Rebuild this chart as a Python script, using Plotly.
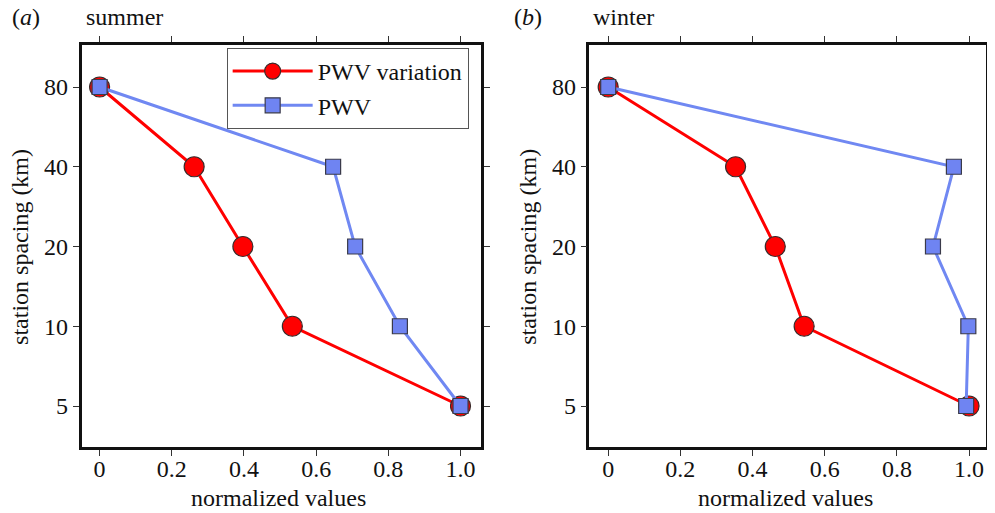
import plotly.graph_objects as go

spacing_km = [80, 40, 20, 10, 5]
tick_vals = [5, 10, 20, 40, 80]
x_ticks = [0, 0.2, 0.4, 0.6, 0.8, 1.0]
x_tick_text = ["0", "0.2", "0.4", "0.6", "0.8", "1.0"]

summer_pwv_variation = [0.0, 0.262, 0.397, 0.534, 1.0]
summer_pwv = [0.0, 0.647, 0.708, 0.832, 1.0]
winter_pwv_variation = [0.0, 0.353, 0.463, 0.543, 1.0]
winter_pwv = [0.0, 0.958, 0.900, 0.998, 0.992]

FONT = "Liberation Serif"
RED = "#ff0000"
BLUE = "#7088f2"
BLUE_FILL = "#6f84f2"

# page has 8px default body margin: figure is offset by 8px
OFF = 8
W, H = 995 - OFF, 513 - OFF

def px(x):
    return (x - OFF) / W

def py(y):
    return 1 - (y - OFF) / H

fig = go.Figure()

def add_panel(xv, xb, ax, show_legend):
    fig.add_trace(go.Scatter(
        x=xv, y=spacing_km, mode="lines+markers", name="PWV variation",
        line=dict(color=RED, width=3),
        marker=dict(symbol="circle", size=20, color=RED, line=dict(color="#3a2a2a", width=1.2)),
        xaxis="x" + ax, yaxis="y" + ax, showlegend=show_legend))
    fig.add_trace(go.Scatter(
        x=xb, y=spacing_km, mode="lines+markers", name="PWV",
        line=dict(color=BLUE, width=3),
        marker=dict(symbol="square", size=15, color=BLUE_FILL, line=dict(color="#3a3a4a", width=1.2)),
        xaxis="x" + ax, yaxis="y" + ax, showlegend=show_legend))

add_panel(summer_pwv_variation, summer_pwv, "", True)
add_panel(winter_pwv_variation, winter_pwv, "2", False)

ytop = py(45)
ybot = py(447)

axis_common = dict(
    showline=True, linewidth=2.5, linecolor="#111111", mirror="ticks",
    ticks="outside", ticklen=6, tickwidth=1, tickcolor="#333333",
    showgrid=False, zeroline=False,
    tickfont=dict(family=FONT, size=24, color="#111111"),
)

yr = [0.5442, 2.0617]

fig.update_layout(
    width=W, height=H,
    margin=dict(l=0, r=0, t=0, b=0),
    paper_bgcolor="white", plot_bgcolor="white",
    font=dict(family=FONT, size=24, color="#111111"),
    xaxis=dict(domain=[px(82), px(484)], range=[-0.05, 1.057], tickvals=x_ticks, ticktext=x_tick_text,
               anchor="y", ticklabelstandoff=-8, **axis_common),
    yaxis=dict(domain=[ybot, ytop], type="log", range=yr, tickvals=tick_vals,
               ticktext=[str(v) for v in tick_vals], anchor="x", ticklabelstandoff=0, **axis_common),
    xaxis2=dict(domain=[px(593), px(992)], range=[-0.052, 1.047], tickvals=x_ticks, ticktext=x_tick_text,
                anchor="y2", ticklabelstandoff=-8, **axis_common),
    yaxis2=dict(domain=[ybot, ytop], type="log", range=yr, tickvals=tick_vals,
                ticktext=[str(v) for v in tick_vals], anchor="x2", ticklabelstandoff=0, **axis_common),
    legend=dict(x=px(228), y=py(48), xanchor="left", yanchor="top",
                bgcolor="white", bordercolor="#555555", borderwidth=1,
                font=dict(family=FONT, size=24, color="#111111"),
                itemwidth=80, tracegroupgap=0),
)

def ann(text, x, y, xanchor="left", textangle=0):
    fig.add_annotation(text=text, x=px(x), y=py(y), xref="paper", yref="paper",
                       xanchor=xanchor, yanchor="middle", showarrow=False, textangle=textangle,
                       font=dict(family=FONT, size=24, color="#111111"))

ann("(<i>a</i>)", 10, 17)
ann("summer", 84, 17)
ann("(<i>b</i>)", 515, 17)
ann("winter", 595, 17)
ann("normalized values", 280, 498, xanchor="center")
ann("normalized values", 790, 498, xanchor="center")
ann("station spacing (km)", 20, 247, xanchor="center", textangle=-90)
ann("station spacing (km)", 531, 247, xanchor="center", textangle=-90)

fig.write_html("out.html")
